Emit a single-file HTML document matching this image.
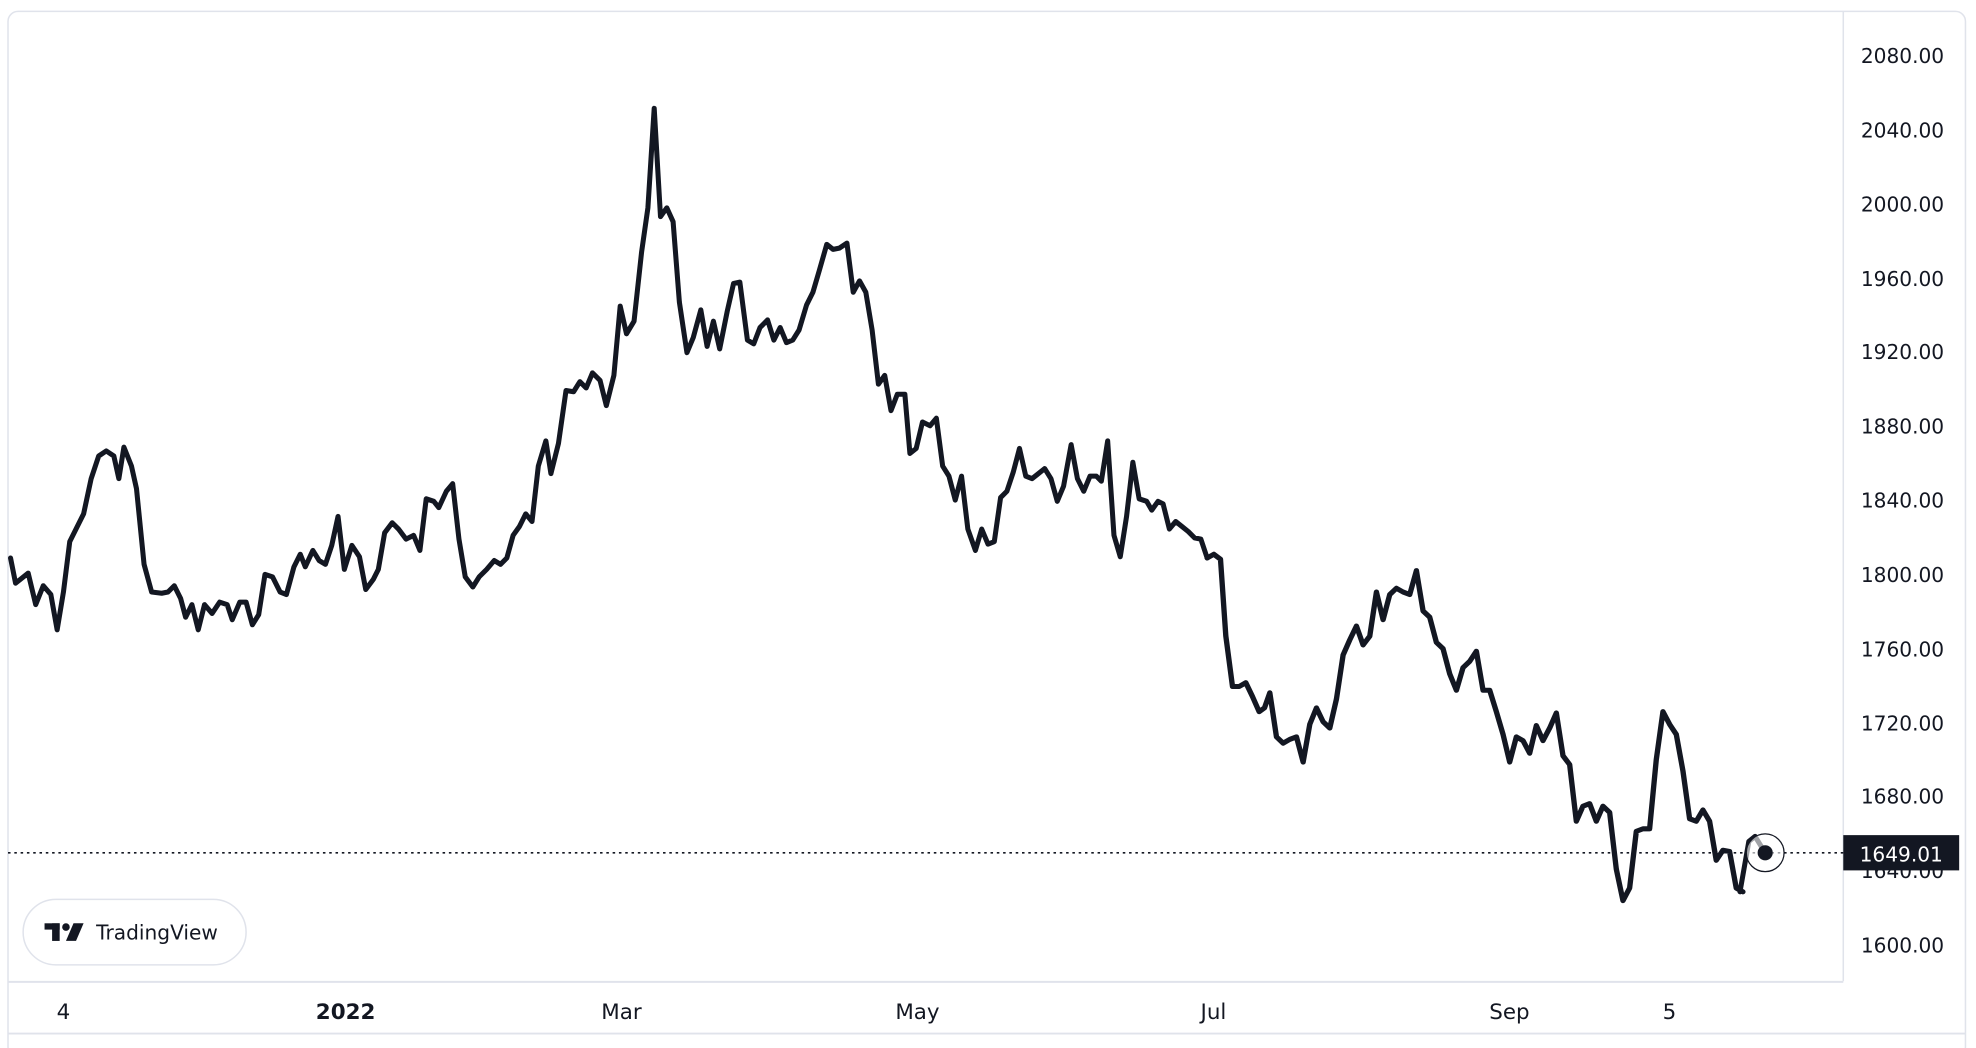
<!DOCTYPE html>
<html><head><meta charset="utf-8"><style>
html,body{margin:0;padding:0;background:#fff;}
svg{display:block;}
text{font-family:"DejaVu Sans","Liberation Sans",sans-serif;fill:#131722;}
</style></head><body>
<svg width="1976" height="1048" viewBox="0 0 1568 832" xmlns="http://www.w3.org/2000/svg">
<rect x="6" y="9" width="1554" height="830" rx="8" fill="#fff" stroke="#e0e3eb" stroke-width="1.2"/>
<line x1="1463" y1="9" x2="1463" y2="779" stroke="#e0e3eb" stroke-width="1.2"/>
<line x1="6" y1="779.5" x2="1463" y2="779.5" stroke="#e0e3eb" stroke-width="1.5"/>
<line x1="6" y1="820.5" x2="1560" y2="820.5" stroke="#e0e3eb" stroke-width="1.5"/>
<g font-size="16" text-anchor="middle">
<text x="1510" y="50">2080.00</text>
<text x="1510" y="109">2040.00</text>
<text x="1510" y="168">2000.00</text>
<text x="1510" y="227">1960.00</text>
<text x="1510" y="285">1920.00</text>
<text x="1510" y="344">1880.00</text>
<text x="1510" y="403">1840.00</text>
<text x="1510" y="462">1800.00</text>
<text x="1510" y="521">1760.00</text>
<text x="1510" y="580">1720.00</text>
<text x="1510" y="638">1680.00</text>
<text x="1510" y="697">1640.00</text>
<text x="1510" y="756">1600.00</text>
</g>
<g font-size="17" text-anchor="middle">
<text x="50" y="809">4</text>
<text x="274" y="809" font-weight="bold">2022</text>
<text x="493" y="809">Mar</text>
<text x="728" y="809">May</text>
<text x="963" y="809">Jul</text>
<text x="1198" y="809">Sep</text>
<text x="1325" y="809">5</text>
</g>
<line x1="6" y1="677" x2="1463" y2="677" stroke="#131722" stroke-width="1.3" stroke-dasharray="2,3"/>
<g fill="none" stroke="#131722" stroke-width="4" stroke-linejoin="round" stroke-linecap="round">
<polyline points="8,443 12,463 22,455 28,480 34,465 40,472 45,500 50,470 55,430 60,420 66,408 72,380 78,362 84,358 90,362 94,380 98,355 104,370 108,388 114,448 120,470 128,471 133,470 138,465 143,475 147,490 152,480 157,500 162,480 168,487 174,478 180,480 184,492 190,478 195,478 200,496 205,488 210,456 216,458 222,470 227,472 233,450 238,440 242,450 248,437 253,445 258,448 263,433 268,410 273,452 279,433 285,442 290,468 296,460 300,452 305,423 311,415 316,420 322,428 328,425 333,437 338,396 344,398 348,403 354,390 359,384 364,428 369,458 375,466 380,458 386,452 392,445 397,448 402,443 407,425 412,418 417,408 422,414 427,370 433,350 437,376 443,352 449,310 455,311 460,303 465,308 470,296 476,302 481,322 487,298 492,243 497,265 503,255 509,200 514,165 519,86 524,172 529,165 534,176 539,240 545,280 550,268 556,246 561,275 566,255 571,277 577,247 582,225 587,224 593,270 598,273 603,260 609,254 614,270 619,260 624,272 629,270 634,262 640,242 645,232 650,215 656,194 661,198 666,197 672,193 677,232 682,223 687,232 692,262 697,305 702,298 707,326 712,313 718,313 722,360 727,356 732,335 738,338 743,332 748,370 753,378 758,397 763,378 768,420 774,437 779,420 784,432 789,430 794,395 799,390 804,375 809,356 814,378 819,380 824,376 829,372 834,380 839,398 844,386 850,353 855,380 860,390 865,378 870,378 874,382 879,350 884,425 889,442 894,410 899,367 904,396 910,398 914,405 919,398 923,400 928,420 933,414 938,418 943,422 948,427 953,428 958,443"/>
<polyline transform="translate(958,0) scale(1.058,1) translate(-958,0)" points="958,443 963,440 968,444 972,505 977,545 982,545 987,542 992,553 997,565 1001,562 1005,550 1010,585 1015,590 1020,587 1025,585 1030,605 1035,575 1040,562 1045,573 1050,578 1055,555 1060,520 1065,508 1070,497 1075,512 1080,505 1085,470 1090,492 1095,472 1100,467 1105,470 1110,472 1115,453 1120,485 1125,490 1130,510 1135,515 1140,535 1145,548 1150,530 1155,525 1160,517 1165,548 1170,548 1175,565 1180,583 1185,605 1190,585 1195,588 1200,598 1205,576 1210,588 1215,578 1220,566 1225,600 1230,607 1235,652 1240,640 1245,638 1250,652 1255,640 1260,645 1265,690 1270,715 1275,705 1280,660 1285,658 1290,658 1295,603 1300,565 1305,575 1310,583 1315,612 1320,650 1325,652 1330,643 1335,652 1340,683 1345,675 1350,676 1355,705 1360,708"/>
<polyline points="1381,708 1388,668 1393,664 1401,677"/>
</g>
<circle cx="1401" cy="677" r="15" fill="#fff" fill-opacity="0.6" stroke="#131722" stroke-width="1"/>
<circle cx="1401" cy="677" r="6" fill="#131722"/>
<rect x="1463" y="663" width="92" height="28" fill="#131722"/>
<text x="1509" y="684" font-size="16" text-anchor="middle" style="fill:#fff">1649.01</text>
<rect x="18" y="714" width="177" height="52" rx="26" fill="#fff" stroke="#e0e3eb" stroke-width="1.2"/>
<g fill="#131722">
<rect x="35" y="733" width="12" height="5"/>
<rect x="41" y="733" width="6" height="14"/>
<circle cx="52" cy="736" r="3"/>
<polygon points="58,733 66,733 60,747 52,747"/>
</g>
<text x="76" y="746" font-size="16" font-weight="500">TradingView</text>
</svg>
</body></html>
